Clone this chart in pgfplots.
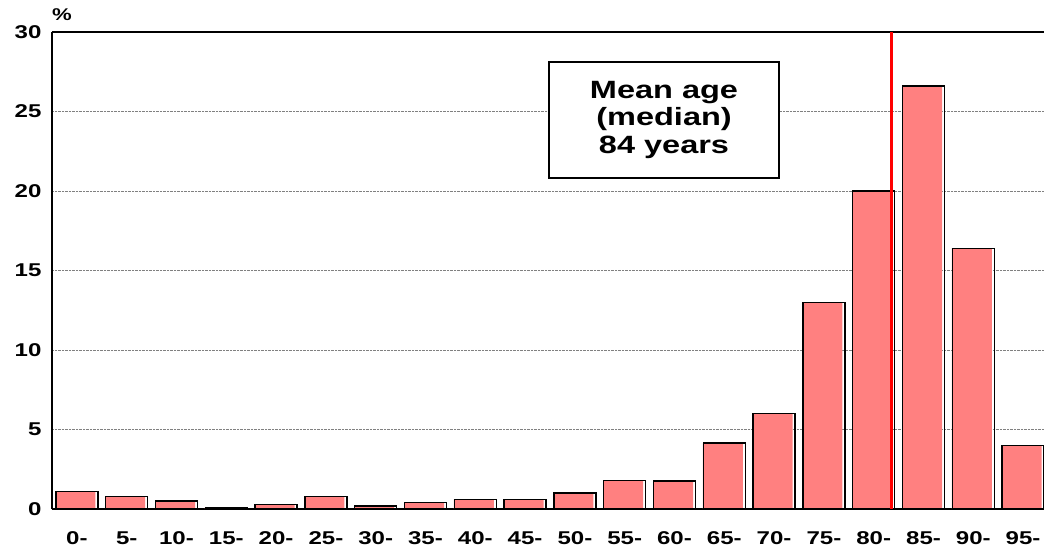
\documentclass[border=0pt]{standalone}
\usepackage{pgfplots}
\pgfplotsset{compat=1.18}
\usepackage{pgfplotstable}
\usepackage{fontspec}
\setmainfont{Liberation Sans}[FakeStretch=1.3]

\definecolor{barpink}{HTML}{FF8080}

% share of deaths by age group, %
\pgfplotstableread{
idx age val
0  0-  1.1
1  5-  0.8
2  10- 0.5
3  15- 0.1
4  20- 0.3
5  25- 0.8
6  30- 0.2
7  35- 0.4
8  40- 0.6
9  45- 0.6
10 50- 1.0
11 55- 1.8
12 60- 1.75
13 65- 4.15
14 70- 6.0
15 75- 13.0
16 80- 20.0
17 85- 26.6
18 90- 16.4
19 95- 4.0
}\agedata

\begin{document}
\begin{tikzpicture}
  \begin{axis}[
      name=ax,
      x=49.8pt, y=15.9pt,
      xmin=-0.5, xmax=19.42,
      ymin=0, ymax=30,
      clip=false,
      axis lines=left,
      axis line style={line width=1.4pt, -},
      major tick length=0pt,
      ytick={0,5,...,30},
      xtick={0,...,19},
      xticklabels={0-,5-,10-,15-,20-,25-,30-,35-,40-,45-,50-,55-,60-,65-,70-,75-,80-,85-,90-,95-},
      ymajorgrids=true,
      major grid style={gray, densely dotted, line width=0.6pt},
      /pgf/number format/assume math mode=true,
      ticklabel style={font=\fontsize{18.5}{20}\selectfont\bfseries},
      xticklabel style={yshift=-19pt},
      yticklabel style={xshift=-7pt},
    ]
    % top frame line
    \draw[line width=1.4pt] (axis cs:-0.5,30) -- (axis cs:19.42,30);

    \addplot[ybar, bar width=40pt, bar shift=-1.5pt, fill=barpink, draw=none]
      table[x=idx, y=val] {\agedata};
    \addplot[ybar, bar width=42pt, bar shift=0pt, fill=none, draw=black, line width=1.4pt]
      table[x=idx, y=val] {\agedata};

    % median line
    \addplot[red, line width=2.6pt] coordinates {(16.36,0) (16.36,30)};

    \node[draw=black, line width=1.2pt, fill=white, minimum width=230pt, minimum height=116pt,
          align=center, font=\fontsize{25}{27.5}\selectfont\bfseries]
      at (axis cs:11.79,24.47) {Mean age\\(median)\\84 years};

    \node[anchor=south west, inner sep=0pt, font=\fontsize{17}{18}\selectfont\bfseries]
      at (axis cs:-0.5,30) [yshift=11pt] {\%};
  \end{axis}
  \pgfresetboundingbox
  \path[use as bounding box] (ax.south west) ++(-52pt,-43pt) rectangle ++(1044pt,552pt);
\end{tikzpicture}
\end{document}
